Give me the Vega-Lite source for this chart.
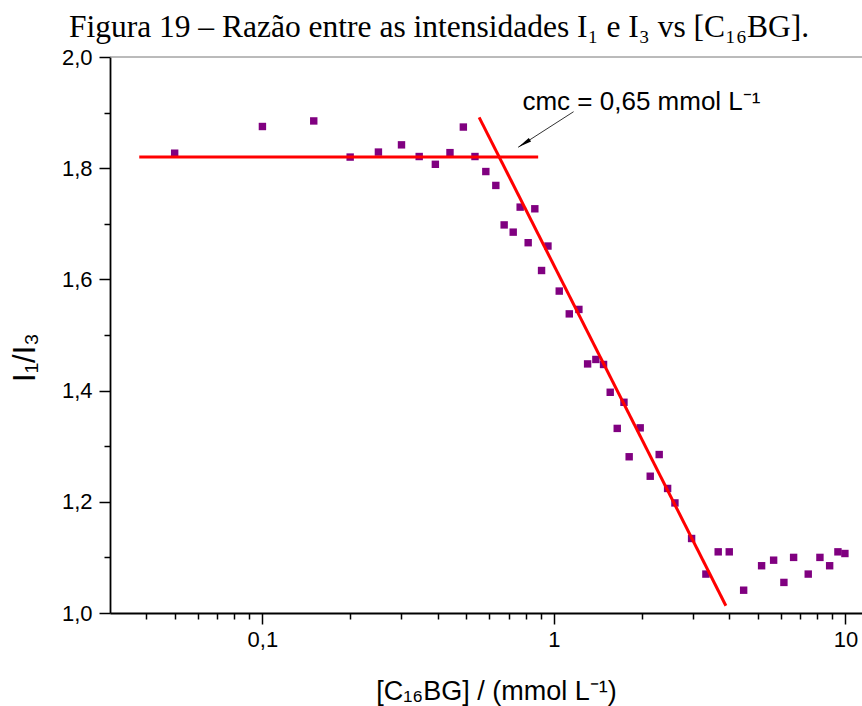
{
  "$schema": "https://vega.github.io/schema/vega-lite/v6.json",
  "width": 752,
  "height": 556,
  "autosize": {"type": "none"},
  "padding": {"left": 110, "top": 57, "right": 0, "bottom": 93},
  "background": "white",
  "title": {
    "text": "Figura 19 – Razão entre as intensidades I₁ e I₃ vs [C₁₆BG].",
    "font": "Liberation Serif",
    "fontSize": 31.5,
    "fontWeight": "normal",
    "color": "black",
    "anchor": "middle",
    "dx": -47,
    "offset": 3
  },
  "config": {
    "view": {"stroke": null},
    "axis": {
      "grid": false,
      "labelFont": "Liberation Sans",
      "titleFont": "Liberation Sans",
      "labelColor": "black",
      "titleColor": "black",
      "domainColor": "black",
      "tickColor": "black",
      "titleFontWeight": "normal"
    }
  },
  "datasets": {
    "pts": [
      {"c": 0.05, "r": 1.827}, {"c": 0.1, "r": 1.875}, {"c": 0.15, "r": 1.885},
      {"c": 0.2, "r": 1.82}, {"c": 0.25, "r": 1.829}, {"c": 0.3, "r": 1.842},
      {"c": 0.345, "r": 1.821}, {"c": 0.392, "r": 1.807}, {"c": 0.44, "r": 1.828},
      {"c": 0.489, "r": 1.874}, {"c": 0.536, "r": 1.821}, {"c": 0.584, "r": 1.794},
      {"c": 0.632, "r": 1.769}, {"c": 0.766, "r": 1.73}, {"c": 0.86, "r": 1.727},
      {"c": 0.675, "r": 1.698}, {"c": 0.725, "r": 1.685}, {"c": 0.816, "r": 1.666},
      {"c": 0.954, "r": 1.66}, {"c": 0.907, "r": 1.616}, {"c": 1.043, "r": 1.579},
      {"c": 1.129, "r": 1.538}, {"c": 1.218, "r": 1.546}, {"c": 1.305, "r": 1.448},
      {"c": 1.393, "r": 1.456}, {"c": 1.48, "r": 1.447}, {"c": 1.56, "r": 1.397},
      {"c": 1.739, "r": 1.379}, {"c": 1.649, "r": 1.332}, {"c": 1.977, "r": 1.333},
      {"c": 1.812, "r": 1.281}, {"c": 2.297, "r": 1.285}, {"c": 2.14, "r": 1.246},
      {"c": 2.455, "r": 1.224}, {"c": 2.601, "r": 1.198}, {"c": 2.967, "r": 1.134},
      {"c": 3.322, "r": 1.07}, {"c": 3.661, "r": 1.11}, {"c": 3.995, "r": 1.11},
      {"c": 4.476, "r": 1.041}, {"c": 5.158, "r": 1.085}, {"c": 5.672, "r": 1.095},
      {"c": 6.152, "r": 1.055}, {"c": 6.642, "r": 1.1}, {"c": 7.455, "r": 1.07},
      {"c": 8.177, "r": 1.1}, {"c": 8.829, "r": 1.085}, {"c": 9.426, "r": 1.11},
      {"c": 9.96, "r": 1.107}
    ],
    "fits": [
      {"x": 0.0378, "y": 1.82, "x2": 0.883, "y2": 1.82},
      {"x": 0.554, "y": 1.8915, "x2": 3.89, "y2": 1.0131}
    ],
    "arrow": [{"x": 1.168, "y": 1.9016, "x2": 0.754, "y2": 1.8376}],
    "tip": [{"x": 0.754, "y": 1.8376}],
    "note": [{"x": 0.78, "y": 1.905, "t": "cmc = 0,65 mmol L⁻¹"}],
    "frame": [{"y": 2}]
  },
  "layer": [
    {
      "data": {"name": "frame"},
      "mark": {"type": "rule", "color": "#777777", "strokeWidth": 1},
      "encoding": {
        "y": {"field": "y", "type": "quantitative", "scale": {"domain": [1, 2], "nice": false, "zero": false}, "axis": null}
      }
    },
    {
      "data": {"name": "pts"},
      "mark": {"type": "point", "shape": "square", "filled": true, "size": 55, "color": "#800080", "opacity": 1},
      "encoding": {
        "x": {
          "field": "c", "type": "quantitative",
          "scale": {"type": "log", "domain": [0.03, 11.4], "nice": false},
          "axis": {
            "orient": "bottom",
            "values": [0.1, 1, 10],
            "labelExpr": "replace(toString(datum.value), '.', ',')",
            "tickSize": 11, "tickWidth": 1.5, "domainWidth": 1.8,
            "labelFontSize": 22, "labelPadding": 5,
            "title": "[C₁₆BG] / (mmol L⁻¹)",
            "titleFontSize": 27, "titleX": 386, "titleY": 86, "titleBaseline": "alphabetic"
          }
        },
        "y": {
          "field": "r", "type": "quantitative",
          "scale": {"domain": [1, 2], "nice": false, "zero": false},
          "axis": {
            "orient": "left",
            "values": [1, 1.2, 1.4, 1.6, 1.8, 2],
            "labelExpr": "replace(format(datum.value, '.1f'), '.', ',')",
            "tickSize": 11, "tickWidth": 1.5, "domainWidth": 1.8,
            "labelFontSize": 22, "labelPadding": 7,
            "title": "I₁/I₃",
            "titleFontSize": 31, "titleAngle": 270, "titleX": -76, "titleY": 300, "titleBaseline": "alphabetic", "titleAlign": "center"
          }
        }
      }
    },
    {
      "data": {"name": "fits"},
      "mark": {"type": "rule", "color": "#ff0000", "strokeWidth": 3},
      "encoding": {
        "x": {
          "field": "x", "type": "quantitative",
          "scale": {"type": "log", "domain": [0.03, 11.4], "nice": false},
          "axis": {
            "orient": "bottom",
            "values": [0.04, 0.05, 0.06, 0.07, 0.08, 0.09, 0.2, 0.3, 0.4, 0.5, 0.6, 0.7, 0.8, 0.9, 2, 3, 4, 5, 6, 7, 8, 9],
            "tickSize": 6, "tickWidth": 1.5, "labels": false, "domain": false, "title": null
          }
        },
        "x2": {"field": "x2"},
        "y": {
          "field": "y", "type": "quantitative",
          "scale": {"domain": [1, 2], "nice": false, "zero": false},
          "axis": {
            "orient": "left",
            "values": [1.1, 1.3, 1.5, 1.7, 1.9],
            "tickSize": 6, "tickWidth": 1.5, "labels": false, "domain": false, "title": null
          }
        },
        "y2": {"field": "y2"}
      }
    },
    {
      "data": {"name": "arrow"},
      "mark": {"type": "rule", "color": "#333333", "strokeWidth": 1},
      "encoding": {
        "x": {"field": "x", "type": "quantitative", "scale": {"type": "log", "domain": [0.03, 11.4], "nice": false}, "axis": null},
        "x2": {"field": "x2"},
        "y": {"field": "y", "type": "quantitative", "scale": {"domain": [1, 2], "nice": false, "zero": false}, "axis": null},
        "y2": {"field": "y2"}
      }
    },
    {
      "data": {"name": "tip"},
      "mark": {"type": "point", "shape": "M0,0L0.3,2L-0.3,2Z", "filled": true, "color": "black", "size": 196, "angle": 237, "opacity": 1},
      "encoding": {
        "x": {"field": "x", "type": "quantitative", "scale": {"type": "log", "domain": [0.03, 11.4], "nice": false}, "axis": null},
        "y": {"field": "y", "type": "quantitative", "scale": {"domain": [1, 2], "nice": false, "zero": false}, "axis": null}
      }
    },
    {
      "data": {"name": "note"},
      "mark": {"type": "text", "align": "left", "baseline": "alphabetic", "font": "Liberation Sans", "fontSize": 26, "color": "black"},
      "encoding": {
        "x": {"field": "x", "type": "quantitative", "scale": {"type": "log", "domain": [0.03, 11.4], "nice": false}, "axis": null},
        "y": {"field": "y", "type": "quantitative", "scale": {"domain": [1, 2], "nice": false, "zero": false}, "axis": null},
        "text": {"field": "t"}
      }
    }
  ],
  "resolve": {"axis": {"x": "independent", "y": "independent"}}
}
